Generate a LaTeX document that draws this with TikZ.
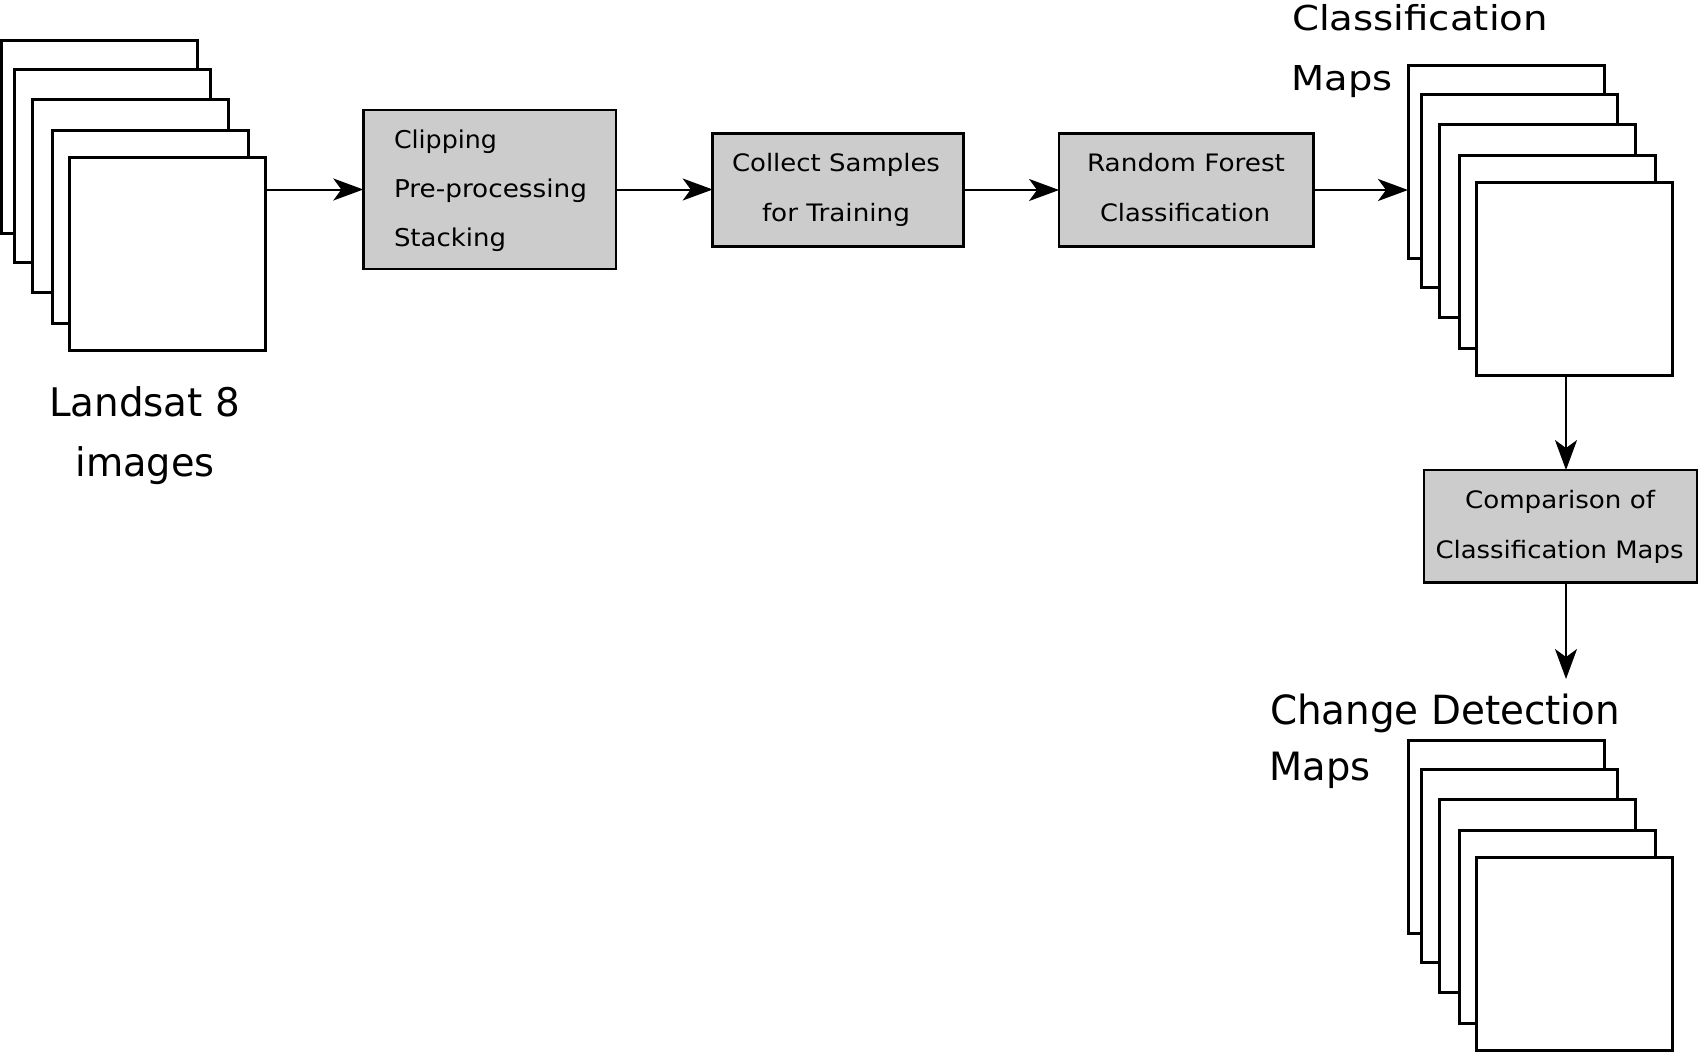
\documentclass[tikz,border=0pt]{standalone}
\usepackage{fontspec}
\setmainfont{DejaVu Sans}
\usetikzlibrary{arrows.meta}
\definecolor{boxgray}{HTML}{CCCCCC}
\newcommand{\tx}[3]{\resizebox{#2pt}{\height}{\fontsize{#1pt}{#1pt}\selectfont #3}}
\begin{document}
\begin{tikzpicture}[x=1pt,y=-1pt,
  sheet/.style={draw, line width=3pt, fill=white, minimum width=196pt, minimum height=193pt, inner sep=0pt, outer sep=0pt, anchor=north west},
  procbox/.style={draw, line width=2.5pt, fill=boxgray, inner sep=0pt, outer sep=0pt},
  lbl/.style={anchor=base west, inner sep=0pt, outer sep=0pt},
  flow/.style={line width=2pt, -{Stealth[length=30pt,width=22pt,inset=8pt]}}]
\useasboundingbox (0,0) rectangle (1698,1052);

% stacks of sheets
\foreach \dx/\dy [count=\i] in {0/0,13/29,31/59,51/90,68/117}{
  \node[sheet] (L\i) at (1.5+\dx,40.5+\dy) {};
}
\foreach \dx/\dy [count=\i] in {0/0,13/29,31/59,51/90,68/117}{
  \node[sheet] (C\i) at (1408+\dx,65+\dy) {};
}
\foreach \dx/\dy [count=\i] in {0/0,13/29,31/59,51/90,68/117}{
  \node[sheet] (D\i) at (1408+\dx,740+\dy) {};
}

% process boxes
\node[procbox, minimum width=252.7pt, minimum height=159pt] (b1) at (489.65,189.5) {};
\node[procbox, minimum width=250.6pt, minimum height=113.4pt] (b2) at (838,190) {};
\node[procbox, minimum width=254.3pt, minimum height=113.4pt] (b3) at (1186.2,190) {};
\node[procbox, minimum width=272.7pt, minimum height=112.3pt] (b4) at (1560.4,526.2) {};

% box texts
\node[lbl] (t11) at (394,148.3) {\tx{24.5}{103}{Clipping}};
\node[lbl] (t12) at (394,197.7) {\tx{24.5}{193}{Pre-processing}};
\node[lbl] (t13) at (394,246.7) {\tx{24.5}{112}{Stacking}};
\node[lbl] (t21) at (732,171.7) {\tx{24}{208}{Collect Samples}};
\node[lbl] (t22) at (762,221.7) {\tx{24}{148}{for Training}};
\node[lbl] (t31) at (1087,171.7) {\tx{24}{198}{Random Forest}};
\node[lbl] (t32) at (1100,221.7) {\tx{24}{170}{Classification}};
\node[lbl] (t41) at (1465,508.3) {\tx{24}{190}{Comparison of}};
\node[lbl] (t42) at (1435.5,558.3) {\tx{24}{248}{Classification Maps}};

% stack labels
\node[lbl] (ll1) at (49,416.7) {\tx{39.4}{191}{Landsat 8}};
\node[lbl] (ll2) at (75.5,476.7) {\tx{39.4}{139}{images}};
\node[lbl] (cl1) at (1292,30) {\tx{34.3}{256}{Classification}};
\node[lbl] (cl2) at (1291.5,90.7) {\tx{34.3}{101}{Maps}};
\node[lbl] (dl1) at (1270,724.3) {\tx{40.2}{350}{Change Detection}};
\node[lbl] (dl2) at (1269.5,780) {\tx{39}{101}{Maps}};

% connectors
\coordinate (ax) at (1566,0);
\coordinate (cdin) at (1566,679);
\draw[flow] (L5.east |- b1.west) -- (b1.west);
\draw[flow] (b1.east) -- (b1.east -| b2.west);
\draw[flow] (b2.east) -- (b2.east -| b3.west);
\draw[flow] (b3.east) -- (b3.east -| C1.west);
\draw[flow] (C5.south -| ax) -- (b4.north -| ax);
\draw[flow] (b4.south -| ax) -- (cdin);
\end{tikzpicture}
\end{document}
